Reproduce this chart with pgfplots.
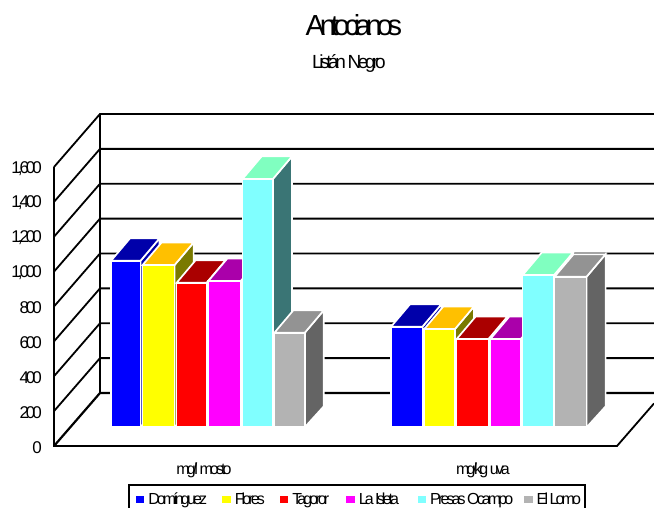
\documentclass[border=0pt]{standalone}
\usepackage{pgfplots}
\pgfplotsset{compat=1.18}
\usepackage{fontspec}
\setmainfont{Liberation Sans}[LetterSpace=-18]

% front, top and side shades of each series
\definecolor{fDom}{HTML}{0000FF}\definecolor{tDom}{HTML}{0000AA}\definecolor{sDom}{HTML}{0000AA}
\definecolor{fFlo}{HTML}{FFFF00}\definecolor{tFlo}{HTML}{FFC000}\definecolor{sFlo}{HTML}{7A7A00}
\definecolor{fTag}{HTML}{FF0000}\definecolor{tTag}{HTML}{AA0000}\definecolor{sTag}{HTML}{AA0000}
\definecolor{fIsl}{HTML}{FF00FF}\definecolor{tIsl}{HTML}{AA00AA}\definecolor{sIsl}{HTML}{AA00AA}
\definecolor{fPre}{HTML}{80FFFF}\definecolor{tPre}{HTML}{80FFC0}\definecolor{sPre}{HTML}{3A7575}
\definecolor{fLom}{HTML}{B3B3B3}\definecolor{tLom}{HTML}{939393}\definecolor{sLom}{HTML}{646464}

% one column: left edge, width, value, series shades
\newcommand{\barcol}[4]{%
  \pgfmathsetmacro\xa{#1}%
  \pgfmathsetmacro\xb{#1+#2}%
  \pgfmathsetmacro\xc{#1+19}%
  \pgfmathsetmacro\xd{#1+#2+19}%
  \pgfmathsetmacro\yt{#3+107}%
  \pgfmathsetmacro\ytt{#3+236}%
  \addplot[forget plot,fill=s#4,draw=white,line width=1.7pt] coordinates {(\xb,107) (\xd,227) (\xd,\ytt) (\xb,\yt)} --cycle;
  \addplot[forget plot,fill=t#4,draw=white,line width=1.7pt] coordinates {(\xa,\yt) (\xc,\ytt) (\xd,\ytt) (\xb,\yt)} --cycle;
  \addplot[forget plot,fill=f#4,draw=white,line width=1.7pt] coordinates {(\xa,107) (\xb,107) (\xb,\yt) (\xa,\yt)} --cycle;
}
% one wall level: value on the front edge, raised to the back wall
\newcommand{\wallline}[3]{%
  \addplot[forget plot,black,line width=#3] coordinates {(0,#1) (46,#2) (600,#2)};
}
\newcommand{\keyswatch}[1]{%
  \addlegendimage{legend image code/.code={\fill[#1] (0pt,-3pt) rectangle (7pt,3pt);}}%
}

\begin{document}
\begin{tikzpicture}[x=1pt,y=1pt]
\useasboundingbox (0,0) rectangle (654,507);
\clip (0,0) rectangle (654,507);
\begin{axis}[
  at={(54pt,61pt)},anchor=south west,
  scale only axis,width=563pt,height=279pt,
  xmin=0,xmax=563,ymin=0,ymax=1600,
  clip=false,
  axis line style={draw=none},
  major tick length=0pt,
  xtick={150,429},
  xticklabels={mg/l mosto,mg/kg uva},
  ytick={0,200,400,600,800,1000,1200,1400,1600},
  /pgf/number format/assume math mode=true,
  /pgf/number format/1000 sep={,},
  scaled y ticks=false,
  tick label style={font=\fontsize{16}{18}\selectfont},
  yticklabel style={inner sep=0pt,xshift=-12pt,yshift=-1.2pt,font=\fontsize{17}{19}\selectfont},
  xticklabel style={inner sep=0pt,yshift=-17pt},
  legend columns=6,
  legend cell align=left,
  legend style={
    at={(axis cs:74,-218)},anchor=north west,
    draw=black,line width=1.5pt,fill=white,
    font=\fontsize{16}{18}\selectfont,
    inner xsep=7pt,inner ysep=8pt,
    nodes={inner xsep=0pt,inner ysep=0pt,line width=0pt},
    /tikz/every odd column/.append style={column sep=4pt},
    /tikz/every even column/.append style={column sep=0pt},
  },
]
% walls and floor
\wallline{0}{304}{2.2pt}
\wallline{200}{504}{1.8pt}
\wallline{400}{704}{1.8pt}
\wallline{600}{904}{1.8pt}
\wallline{800}{1104}{1.8pt}
\wallline{1000}{1304}{1.8pt}
\wallline{1200}{1504}{1.8pt}
\wallline{1400}{1704}{1.8pt}
\wallline{1600}{1904}{1.8pt}
\addplot[forget plot,black,line width=1.8pt] coordinates {(0,1600) (0,0) (563,0) (600,244)};
\addplot[forget plot,black,line width=1.8pt] coordinates {(46,304) (46,1904)};

% mg/l mosto
\barcol{57}{29.5}{955}{Dom}
\barcol{88.6}{32}{931}{Flo}
\barcol{122.6}{30}{829}{Tag}
\barcol{154.3}{32.4}{839}{Isl}
\barcol{188.6}{30.4}{1425}{Pre}
\barcol{220.3}{30.4}{542}{Lom}
% mg/kg uva
\barcol{337}{31.4}{577}{Dom}
\barcol{370.3}{30.7}{564}{Flo}
\barcol{402.6}{31.8}{506}{Tag}
\barcol{436.3}{30.4}{506}{Isl}
\barcol{468.6}{31.4}{873}{Pre}
\barcol{500.6}{32}{864}{Lom}

\keyswatch{fDom}\addlegendentry{\makebox[74pt][l]{Domínguez}}
\keyswatch{fFlo}\addlegendentry{\makebox[45pt][l]{Flores}}
\keyswatch{fTag}\addlegendentry{\makebox[54pt][l]{Tagoror}}
\keyswatch{fIsl}\addlegendentry{\makebox[59pt][l]{La Isleta}}
\keyswatch{fPre}\addlegendentry{\makebox[94pt][l]{Presas Ocampo}}
\keyswatch{fLom}\addlegendentry{\makebox[41pt][l]{El Lomo}}

\node[font=\fontsize{29}{31}\selectfont] at (axis cs:300,2414) {Antocianos};
\node[font=\fontsize{19}{21}\selectfont] at (axis cs:295,2196) {Listán Negro};
\end{axis}
\end{tikzpicture}
\end{document}
